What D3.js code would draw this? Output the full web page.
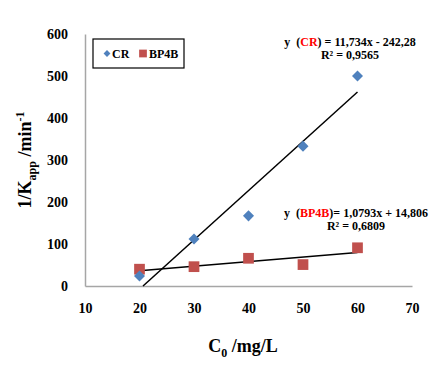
<!DOCTYPE html>
<html><head><meta charset="utf-8">
<script src="https://cdn.jsdelivr.net/npm/d3@7"></script>
<style>body{margin:0;background:#fff}svg{display:block}text{font-family:"Liberation Serif","Times New Roman",serif;font-weight:bold}</style>
</head><body><svg id="c" width="432" height="376"></svg>
<script>
const xValues = [20, 30, 40, 50, 60];
const crValues = [24, 112, 167, 333, 500];
const bp4bValues = [40, 46, 66, 51, 91];
const xTicks = [10, 20, 30, 40, 50, 60, 70];
const yTicks = [0, 100, 200, 300, 400, 500, 600];
const crFit = {slope: 11.734, intercept: -242.28};
const bpFit = {slope: 1.0793, intercept: 14.806};

const svg = d3.select("#c");
const x = d3.scaleLinear().domain([10, 70]).range([85, 412]);
const y = d3.scaleLinear().domain([0, 600]).range([286, 34]);

// axes
const xa = svg.append("g").attr("transform", `translate(0,${y(0)})`)
  .call(d3.axisBottom(x).tickValues(xTicks).tickSize(0).tickPadding(17).tickFormat(d3.format("d")));
const ya = svg.append("g").attr("transform", `translate(${x(10)},0)`)
  .call(d3.axisLeft(y).tickValues(yTicks).tickSize(0).tickPadding(17).tickFormat(d3.format("d")));
[xa, ya].forEach(a => {
  a.select(".domain").attr("stroke", "#a6a6a6").attr("stroke-width", 1.5);
  a.selectAll("text").attr("font-size", 14).attr("fill", "#000")
    .attr("font-family", '"Liberation Serif",serif').attr("font-weight", "bold");
});

// trendlines
function fitLine(f, x0, x1) {
  let xs = x0;
  if (f.slope * xs + f.intercept < 0) xs = -f.intercept / f.slope;
  return [[xs, f.slope * xs + f.intercept], [x1, f.slope * x1 + f.intercept]];
}
const line = d3.line().x(d => x(d[0])).y(d => y(d[1]));
svg.append("path").attr("d", line(fitLine(crFit, 20, 60))).attr("stroke", "#000").attr("stroke-width", 1.5).attr("fill", "none");
svg.append("path").attr("d", line(fitLine(bpFit, 20, 60))).attr("stroke", "#000").attr("stroke-width", 1.5).attr("fill", "none");

// markers
const sq = d3.symbol().type(d3.symbolSquare).size(115);
const dm = d3.symbol().type(d3.symbolDiamond2).size(78);
svg.append("g").selectAll("path").data(xValues).join("path")
  .attr("d", sq).attr("transform", (d, i) => `translate(${x(d)},${y(bp4bValues[i])})`)
  .attr("fill", "#c0504d");
svg.append("g").selectAll("path").data(xValues).join("path")
  .attr("d", dm).attr("transform", (d, i) => `translate(${x(d)},${y(crValues[i])})`)
  .attr("fill", "#4f81bd");

// legend
const lg = svg.append("g");
lg.append("rect").attr("x", 93).attr("y", 39).attr("width", 91).attr("height", 29)
  .attr("fill", "#fff").attr("stroke", "#000").attr("stroke-width", 1.2);
lg.append("path").attr("d", d3.symbol().type(d3.symbolDiamond2).size(30)).attr("transform", "translate(107,53.5)").attr("fill", "#4f81bd");
lg.append("text").attr("x", 112).attr("y", 58).attr("font-size", 12).text("CR");
lg.append("path").attr("d", d3.symbol().type(d3.symbolSquare).size(60)).attr("transform", "translate(143,53.5)").attr("fill", "#c0504d");
lg.append("text").attr("x", 149).attr("y", 58).attr("font-size", 12).text("BP4B");

// equations
function eq(cx, cy, name, rest, r2) {
  const t = svg.append("text").attr("x", cx).attr("y", cy).attr("text-anchor", "middle").attr("font-size", 12);
  t.append("tspan").text("y\u00a0\u00a0(");
  t.append("tspan").attr("fill", "#ff0000").text(name);
  t.append("tspan").text(rest);
  svg.append("text").attr("x", cx).attr("y", cy + 13).attr("text-anchor", "middle").attr("font-size", 12).text(r2);
}
eq(350, 46, "CR", ") = 11,734x - 242,28", "R² = 0,9565");
eq(356, 217, "BP4B", ")= 1,0793x + 14,806", "R² = 0,6809");

// axis titles
const xt = svg.append("text").attr("x", 243).attr("y", 352).attr("text-anchor", "middle").attr("font-size", 18);
xt.append("tspan").text("C");
xt.append("tspan").attr("font-size", 12).attr("dy", 5).text("0");
xt.append("tspan").attr("dy", -5).text(" /mg/L");

const yt = svg.append("text").attr("transform", "translate(31,160) rotate(-90)").attr("text-anchor", "middle").attr("font-size", 18);
yt.append("tspan").text("1/K");
yt.append("tspan").attr("font-size", 12).attr("dy", 5).text("app");
yt.append("tspan").attr("dy", -5).text(" /min");
yt.append("tspan").attr("font-size", 12).attr("dy", -7).text("-1");
</script></body></html>
